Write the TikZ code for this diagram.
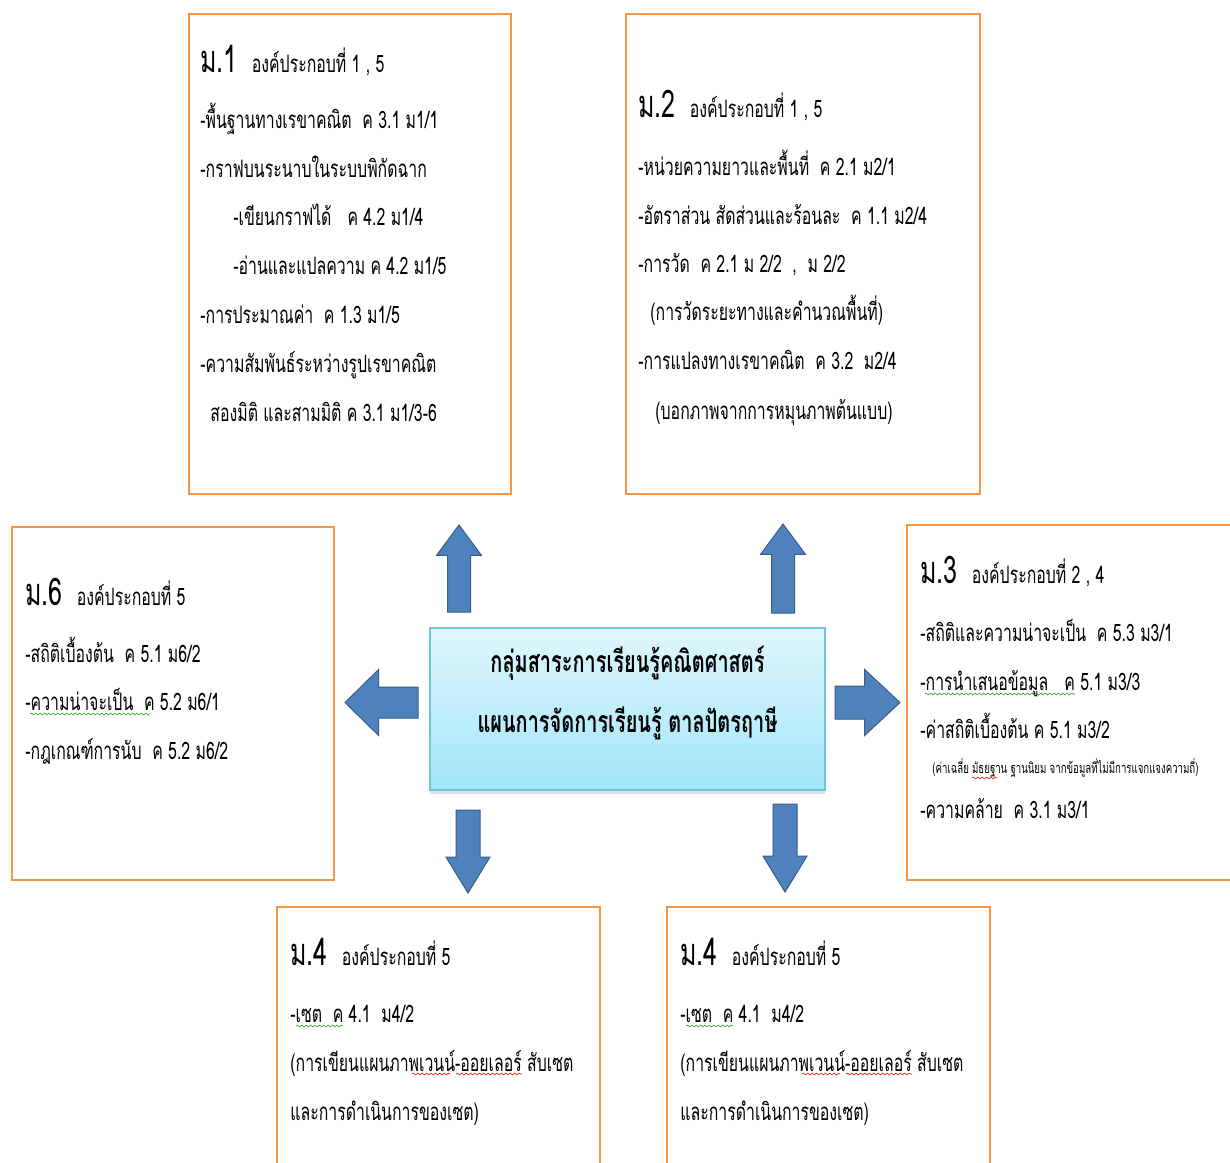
\documentclass[tikz,border=0pt]{standalone}
\usepackage{fontspec}
\setmainfont[Script=Thai, FakeStretch=0.66]{Loma}
\usetikzlibrary{positioning, shapes.arrows, shadows, decorations.pathmorphing}
\definecolor{boxorange}{RGB}{247,150,70}
\definecolor{arrowblue}{RGB}{79,129,189}
\definecolor{arrowedge}{RGB}{56,93,138}
\definecolor{coretop}{RGB}{224,246,252}
\definecolor{corebottom}{RGB}{162,230,250}
\definecolor{coreedge}{RGB}{110,195,222}
\definecolor{spellred}{RGB}{230,40,40}
\definecolor{grammargreen}{RGB}{70,160,60}
\newcommand{\gradeno}[1]{{\fontsize{19}{19}\selectfont #1}}

\begin{document}
\begin{tikzpicture}[
    x=0.5pt, y=-0.5pt,
    lvl/.style={
        rectangle, draw=boxorange, line width=1pt, inner sep=0pt
    },
    core/.style={
        rectangle, draw=coreedge, line width=0.8pt,
        top color=coretop, bottom color=corebottom,
        minimum width=197.5pt, minimum height=81pt,
        drop shadow={opacity=0.25, shadow xshift=0pt, shadow yshift=-2pt}
    },
    hd/.style={anchor=base west, inner sep=0pt, font=\fontsize{12}{12}\selectfont},
    ln/.style={anchor=base west, inner sep=0pt, font=\fontsize{12}{12}\selectfont},
    tinyln/.style={anchor=base west, inner sep=0pt, font=\fontsize{7.3}{7.3}\selectfont},
    blockarrow/.style={
        single arrow, draw=arrowedge, fill=arrowblue, line width=0.5pt,
        inner xsep=0pt, outer sep=0pt, anchor=tail
    },
    squiggle/.style={
        decorate, decoration={snake, amplitude=0.45pt, segment length=2.2pt},
        line width=0.35pt
    }
]

\useasboundingbox (0,0) rectangle (1230,1162);
\fill[white] (0,0) rectangle (1230,1162);
\clip (0,0) rectangle (1230,1162);

% Grade boxes
\node[lvl, minimum width=161pt, minimum height=240pt] (m1) at (350,254) {};
\node[lvl, minimum width=177pt, minimum height=240pt] (m2) at (803,254) {};
\node[lvl, minimum width=161pt, minimum height=176.5pt] (m6) at (173,703.5) {};
\node[lvl, minimum width=162pt, minimum height=177.5pt] (m3) at (1069,702.5) {};
\node[lvl, minimum width=161.5pt, minimum height=140pt] (m4a) at (438.5,1047) {};
\node[lvl, minimum width=161.5pt, minimum height=140pt] (m4b) at (828.5,1047) {};

% Centre
\node[core] (core) at (627.5,709) {};
\node[inner sep=0pt, align=center, font=\fontsize{15.1}{30}\selectfont\bfseries] (coretext) at (627.5,693)
    {กลุ่มสาระการเรียนรู้คณิตศาสตร์\\แผนการจัดการเรียนรู้ ตาลปัตรฤาษี};

% Block arrows
\node[blockarrow, rotate=90, minimum height=43.5pt, minimum width=22pt, inner ysep=5.5pt,
    single arrow head extend=5.5pt, single arrow tip angle=73] (up1) at (459,612) {};
\node[blockarrow, rotate=90, minimum height=44.5pt, minimum width=22pt, inner ysep=5.5pt,
    single arrow head extend=5.5pt, single arrow tip angle=73] (up2) at (783,613) {};
\node[blockarrow, rotate=180, minimum height=36.5pt, minimum width=32.5pt, inner ysep=7.5pt,
    single arrow head extend=8.75pt, single arrow tip angle=89] (left) at (418,702.5) {};
\node[blockarrow, minimum height=32.5pt, minimum width=32.5pt, inner ysep=8pt,
    single arrow head extend=8.25pt, single arrow tip angle=86] (right) at (835,702.5) {};
\node[blockarrow, rotate=-90, minimum height=41.5pt, minimum width=21.5pt, inner ysep=5.75pt,
    single arrow head extend=5pt, single arrow tip angle=63] (down1) at (468,810) {};
\node[blockarrow, rotate=-90, minimum height=44pt, minimum width=21.5pt, inner ysep=5.75pt,
    single arrow head extend=5pt, single arrow tip angle=63] (down2) at (785,804) {};

% ม.1
\node[hd] (m1h) at (200,72) {\gradeno{ม.1}\hspace{7pt}องค์ประกอบที่ 1 , 5};
\node[ln] (m1a) at (200,128) {-พื้นฐานทางเรขาคณิต\ \ ค 3.1 ม1/1};
\node[ln] (m1b) at (200,177) {-กราฟบนระนาบในระบบพิกัดฉาก};
\node[ln] (m1c) at (233,225) {-เขียนกราฟได้\ \ \ ค 4.2 ม1/4};
\node[ln] (m1d) at (233,274) {-อ่านและแปลความ ค 4.2 ม1/5};
\node[ln] (m1e) at (200,323) {-การประมาณค่า\ \ ค 1.3 ม1/5};
\node[ln] (m1f) at (200,372) {-ความสัมพันธ์ระหว่างรูปเรขาคณิต};
\node[ln] (m1g) at (210,421) {สองมิติ และสามมิติ ค 3.1 ม1/3-6};

% ม.2
\node[hd] (m2h) at (638,117) {\gradeno{ม.2}\hspace{7pt}องค์ประกอบที่ 1 , 5};
\node[ln] (m2a) at (638,175) {-หน่วยความยาวและพื้นที่\ \ ค 2.1 ม2/1};
\node[ln] (m2b) at (638,224) {-อัตราส่วน สัดส่วนและร้อนละ\ \ ค 1.1 ม2/4};
\node[ln] (m2c) at (638,272) {-การวัด\ \ ค 2.1 ม 2/2\ \ ,\ \ ม 2/2};
\node[ln] (m2d) at (650,320) {(การวัดระยะทางและคำนวณพื้นที่)};
\node[ln] (m2e) at (638,369) {-การแปลงทางเรขาคณิต\ \ ค 3.2\ \ ม2/4};
\node[ln] (m2f) at (655,419) {(บอกภาพจากการหมุนภาพต้นแบบ)};

% ม.6
\node[hd] (m6h) at (25,605) {\gradeno{ม.6}\hspace{7pt}องค์ประกอบที่ 5};
\node[ln] (m6a) at (25,662) {-สถิติเบื้องต้น\ \ ค 5.1 ม6/2};
\node[ln] (m6b) at (25,710) {-ความน่าจะเป็น\ \ ค 5.2 ม6/1};
\node[ln] (m6c) at (25,759) {-กฎเกณฑ์การนับ\ \ ค 5.2 ม6/2};

% ม.3
\node[hd] (m3h) at (920,583) {\gradeno{ม.3}\hspace{7pt}องค์ประกอบที่ 2 , 4};
\node[ln] (m3a) at (920,641) {-สถิติและความน่าจะเป็น\ \ ค 5.3 ม3/1};
\node[ln] (m3b) at (920,690) {-การนำเสนอข้อมูล\ \ \ ค 5.1 ม3/3};
\node[ln] (m3c) at (920,738) {-ค่าสถิติเบื้องต้น ค 5.1 ม3/2};
\node[tinyln] (m3d) at (932,773) {(ค่าเฉลี่ย มัธยฐาน ฐานนิยม จากข้อมูลที่ไม่มีการแจกแจงความถี่)};
\node[ln] (m3e) at (920,818) {-ความคล้าย\ \ ค 3.1 ม3/1};

% ม.4 (left)
\node[hd] (m4ah) at (290,965) {\gradeno{ม.4}\hspace{7pt}องค์ประกอบที่ 5};
\node[ln] (m4aa) at (290,1022) {-เซต\ \ ค 4.1\ \ ม4/2};
\node[ln] (m4ab) at (290,1071) {(การเขียนแผนภาพเวนน์-ออยเลอร์ สับเซต};
\node[ln] (m4ac) at (290,1120) {และการดำเนินการของเซต)};

% ม.4 (right)
\node[hd] (m4bh) at (680,965) {\gradeno{ม.4}\hspace{7pt}องค์ประกอบที่ 5};
\node[ln] (m4ba) at (680,1022) {-เซต\ \ ค 4.1\ \ ม4/2};
\node[ln] (m4bb) at (680,1071) {(การเขียนแผนภาพเวนน์-ออยเลอร์ สับเซต};
\node[ln] (m4bc) at (680,1120) {และการดำเนินการของเซต)};

% Proofing marks
\draw[squiggle, grammargreen] (30,714) -- (150,714);
\draw[squiggle, grammargreen] (925,694) -- (1075,694);
\draw[squiggle, grammargreen] (296,1026) -- (343,1026);
\draw[squiggle, grammargreen] (686,1026) -- (733,1026);
\draw[squiggle, spellred] (412,1074) -- (450,1074);
\draw[squiggle, spellred] (456,1074) -- (522,1074);
\draw[squiggle, spellred] (802,1074) -- (840,1074);
\draw[squiggle, spellred] (846,1074) -- (912,1074);
\draw[squiggle, spellred] (972,778) -- (997,778);

\end{tikzpicture}
\end{document}
